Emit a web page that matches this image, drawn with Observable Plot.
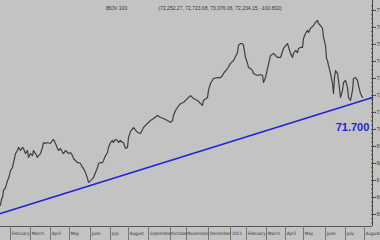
<!DOCTYPE html>
<html><head><meta charset="utf-8">
<script src="https://cdn.jsdelivr.net/npm/d3@7"></script>
<script src="https://cdn.jsdelivr.net/npm/@observablehq/plot@0.6"></script>
<style>html,body{margin:0;padding:0;background:#c3c3c3;overflow:hidden}</style>
</head><body><div id="chart"></div>
<script>
// trading-day index along the x axis
const days = [0,1,2,3,5,7,8,10,12,13,15,17,18,20,22,23,25,27,28,30,32,33,35,37,38,40,42,43,45,47,50,52,53,55,57,58,60,62,63,65,67,68,70,72,73,75,77,78,80,82,83,85,87,88,90,92,93,95,97,98,100,102,103,105,107,108,110,112,113,115,117,118,120,122,123,125,127,128,130,133,137,140,143,147,150,153,157,160,163,167,170,172,173,175,177,180,183,187,190,193,197,200,202,203,207,208,210,213,217,220,222,223,227,230,233,237,238,240,242,243,245,247,248,250,252,253,257,260,262,263,265,267,270,273,277,280,283,287,290,292,293,295,297,298,300,302,303,305,307,308,310,313,315,317,318,320,322,323,325,326,327,328,330,332,333,334,335,337,338,340,342,343,345,347,348,350,352,353,355,357,358,360,362];
// closes, in thousands of points
const closes = [65.55,65.90,65.99,66.41,66.58,66.99,67.11,67.58,67.76,68.05,68.58,68.76,68.94,68.76,68.94,68.88,68.58,68.76,68.35,68.58,68.46,68.76,68.58,68.35,68.46,68.58,68.94,69.23,69.17,69.23,69.17,69.35,69.41,69.17,68.88,68.76,68.88,68.64,68.58,68.76,68.64,68.58,68.64,68.46,68.29,68.17,68.05,68.05,67.99,67.76,67.70,67.46,67.11,66.88,66.99,67.11,67.17,67.46,67.76,67.99,68.05,68.05,68.17,68.46,68.64,68.94,69.23,69.35,69.23,69.41,69.35,69.23,69.35,69.23,69.23,68.88,68.94,69.52,69.88,70.11,69.82,69.76,70.11,70.35,70.52,70.64,70.82,70.70,70.64,70.52,70.41,70.52,70.82,71.11,71.29,71.52,71.58,71.82,71.99,71.82,71.70,71.52,71.41,71.70,71.88,72.29,72.70,72.99,73.05,73.05,73.17,73.29,73.58,73.88,74.05,74.52,74.94,75.05,75.05,74.94,74.23,73.88,73.64,73.58,73.46,73.29,73.17,73.23,73.17,72.76,73.05,73.58,74.35,74.47,74.23,74.23,74.76,75.05,74.47,74.23,74.47,74.64,74.52,74.76,74.82,74.82,75.35,75.64,75.82,75.70,75.94,76.11,76.29,76.41,76.23,76.11,75.94,75.41,74.94,74.17,74.05,73.76,73.29,72.70,72.11,73.05,73.46,73.29,72.88,71.88,72.29,72.76,72.88,72.46,71.88,71.70,72.29,72.99,73.05,72.88,72.58,72.11,71.88];

const trendDays = [0, 372];
const trendValues = [65.05, 71.88];
const trendLabel = "71.700";
const trendLabelDay = 352;
const trendLabelValue = 70.1;

const monthNames = ["February","March","April","May","June","July","August","September","October","November","December","2011","February","March","April","May","June","July","August"];
const monthDays = [10,30,50,69,90,110,128,148,170,186,208,230,246,266,285,303,325,345,364];

const yTicks = [65,66,67,68,69,70,71,72,73,74,75,76,77];
const titleText = "IBOV 100";
const quoteText = "(72,252.27, 72,723.08, 73,076.06, 72,234.15, -100.802)";
const titleDay = 105;
const quoteDay = 158;

const xDomain = [0, 372];
const yDomain = [64.29, 77.58];

const series = days.map((d, i) => ({day: d, close: closes[i]}));
const trend = trendDays.map((d, i) => ({day: d, value: trendValues[i]}));
const months = monthDays.map((d, i) => ({day: d, name: monthNames[i]}));
const minorTicks = d3.range(64.5, 77.5, 0.25);
const fmt = d => d3.format(",")(Math.round(d * 1000)).replace(/,/g, ".");
const narrow = "'Liberation Sans Narrow', 'DejaVu Sans Condensed', sans-serif";

const plot = Plot.plot({
  width: 380, height: 240,
  marginLeft: 0, marginRight: 8, marginTop: 0, marginBottom: 14,
  style: {background: "#c3c3c3", fontFamily: "'Liberation Sans', Arial, sans-serif", color: "#222"},
  x: {domain: xDomain},
  y: {domain: yDomain},
  marks: [
    Plot.axisY(minorTicks, {anchor: "right", tickSize: -2, tickFormat: () => "", stroke: "#555", label: null}),
    Plot.axisY(yTicks, {anchor: "right", tickSize: 3, tickPadding: 1, tickFormat: fmt, fontSize: 5, fill: "#333", stroke: "#444", label: null}),
    Plot.ruleX([xDomain[1]], {stroke: "#444"}),
    Plot.ruleY([yDomain[0]], {stroke: "#555"}),
    Plot.axisX(monthDays, {anchor: "bottom", tickSize: 14, tickFormat: () => "", stroke: "#777", label: null}),
    Plot.text(months, {x: "day", text: "name", frameAnchor: "bottom", dy: 8, dx: 1.2, textAnchor: "start", fontSize: 4.5, fontFamily: narrow, fill: "#333"}),
    Plot.text([titleText], {x: titleDay, frameAnchor: "top", dy: 6, textAnchor: "start", fontSize: 5, fill: "#333"}),
    Plot.text([quoteText], {x: quoteDay, frameAnchor: "top", dy: 6, textAnchor: "start", fontSize: 5, fill: "#333"}),
    Plot.line(trend, {x: "day", y: "value", stroke: "#2323d8", strokeWidth: 1.6}),
    Plot.line(series, {x: "day", y: "close", stroke: "#3f3f3f", strokeWidth: 1.2}),
    Plot.text([trendLabel], {x: trendLabelDay, y: trendLabelValue, text: d => d, fontSize: 11, fontWeight: "bold", fill: "#2323d8"})
  ]
});
document.getElementById("chart").appendChild(plot);
</script>
</body></html>
